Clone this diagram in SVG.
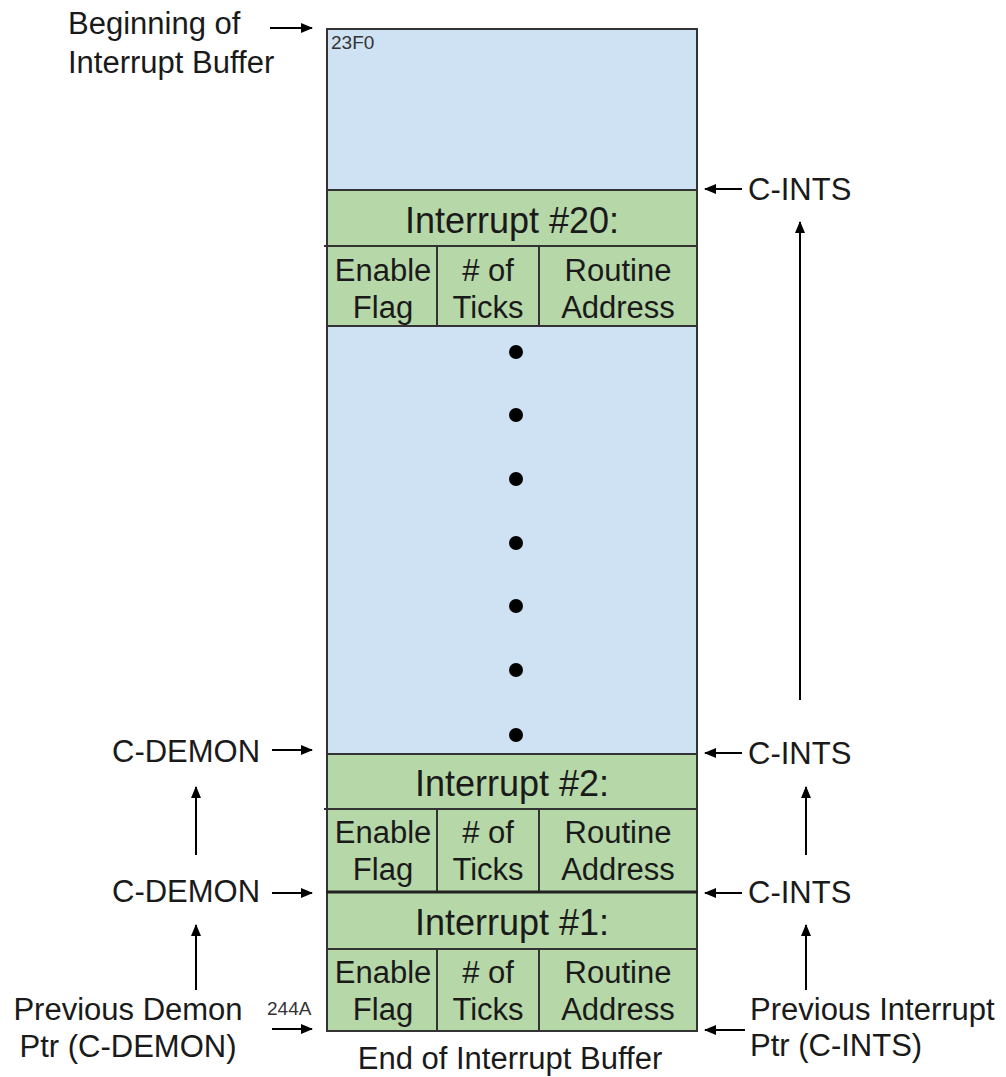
<svg xmlns="http://www.w3.org/2000/svg" width="1006" height="1077" viewBox="0 0 1006 1077">
<style>
text{font-family:"Liberation Sans",Arial,sans-serif;fill:#1a1a1a}
.lbl{font-size:31px}
.hdr{font-size:36px;text-anchor:middle}
.cell{font-size:31px;text-anchor:middle}
.addr{font-size:19px;fill:#333}
.blue{fill:#cfe2f3;stroke:#333;stroke-width:2}
.green{fill:#b6d7a8;stroke:#333;stroke-width:2}
.div{stroke:#333;stroke-width:2}
.arr{stroke:#000;stroke-width:2;fill:none;marker-end:url(#ah)}
.dot{fill:#000}
</style>
<defs>
<marker id="ah" markerUnits="userSpaceOnUse" markerWidth="12" markerHeight="10" refX="11" refY="5" orient="auto">
<path d="M0,0 L12,5 L0,10 Z" fill="#000"/>
</marker>
</defs>
<rect width="1006" height="1077" fill="#fff"/>
<g id="buffer">
<rect class="blue" x="327" y="29" width="370" height="725"/>
<text class="addr" x="331" y="49">23F0</text>
</g>
<g id="dots">
<circle class="dot" cx="516" cy="352" r="7"/>
<circle class="dot" cx="516" cy="415" r="7"/>
<circle class="dot" cx="516" cy="479" r="7"/>
<circle class="dot" cx="516" cy="543" r="7"/>
<circle class="dot" cx="516" cy="606" r="7"/>
<circle class="dot" cx="516" cy="670" r="7"/>
<circle class="dot" cx="516" cy="735" r="7"/>
</g>
<g id="int20">
<rect class="green" x="327" y="190" width="370" height="56"/>
<rect class="green" x="327" y="246" width="370" height="80"/>
<line class="div" x1="324" y1="246" x2="327" y2="246"/>
<line class="div" x1="437" y1="246" x2="437" y2="326"/>
<line class="div" x1="539" y1="246" x2="539" y2="326"/>
<text class="hdr" x="512" y="233">Interrupt #20:</text>
<text class="cell" x="383" y="281">Enable</text>
<text class="cell" x="383" y="318">Flag</text>
<text class="cell" x="488" y="281"># of</text>
<text class="cell" x="488" y="318">Ticks</text>
<text class="cell" x="618" y="281">Routine</text>
<text class="cell" x="618" y="318">Address</text>
</g>
<g id="int2">
<rect class="green" x="327" y="754" width="370" height="55"/>
<rect class="green" x="327" y="809" width="370" height="83"/>
<line class="div" x1="324" y1="809" x2="327" y2="809"/>
<line class="div" x1="437" y1="809" x2="437" y2="892"/>
<line class="div" x1="539" y1="809" x2="539" y2="892"/>
<text class="hdr" x="512" y="796">Interrupt #2:</text>
<text class="cell" x="383" y="843">Enable</text>
<text class="cell" x="383" y="880">Flag</text>
<text class="cell" x="488" y="843"># of</text>
<text class="cell" x="488" y="880">Ticks</text>
<text class="cell" x="618" y="843">Routine</text>
<text class="cell" x="618" y="880">Address</text>
</g>
<g id="int1">
<rect class="green" x="327" y="892" width="370" height="57"/>
<rect class="green" x="327" y="949" width="370" height="82"/>
<line stroke="#222" stroke-width="3" x1="326" y1="892" x2="698" y2="892"/>
<line class="div" x1="437" y1="949" x2="437" y2="1031"/>
<line class="div" x1="539" y1="949" x2="539" y2="1031"/>
<text class="hdr" x="512" y="935">Interrupt #1:</text>
<text class="cell" x="383" y="983">Enable</text>
<text class="cell" x="383" y="1020">Flag</text>
<text class="cell" x="488" y="983"># of</text>
<text class="cell" x="488" y="1020">Ticks</text>
<text class="cell" x="618" y="983">Routine</text>
<text class="cell" x="618" y="1020">Address</text>
<text class="addr" x="267" y="1015">244A</text>
</g>
<g id="labels">
<text class="lbl" x="68" y="34">Beginning of</text>
<text class="lbl" x="68" y="73">Interrupt Buffer</text>
<text class="lbl" x="748" y="200">C-INTS</text>
<text class="lbl" x="748" y="764">C-INTS</text>
<text class="lbl" x="748" y="903">C-INTS</text>
<text class="lbl" x="112" y="762">C-DEMON</text>
<text class="lbl" x="112" y="902">C-DEMON</text>
<text class="lbl" x="128" y="1020" text-anchor="middle">Previous Demon</text>
<text class="lbl" x="128" y="1057" text-anchor="middle">Ptr (C-DEMON)</text>
<text class="lbl" x="750" y="1020">Previous Interrupt</text>
<text class="lbl" x="750" y="1056">Ptr (C-INTS)</text>
<text class="lbl" x="510" y="1069" text-anchor="middle">End of Interrupt Buffer</text>
</g>
<g id="connectors">
<line class="arr" x1="270" y1="28" x2="312" y2="28"/>
<line class="arr" x1="742" y1="189" x2="705" y2="189"/>
<line class="arr" x1="800" y1="700" x2="800" y2="222"/>
<line class="arr" x1="742" y1="753" x2="705" y2="753"/>
<line class="arr" x1="806" y1="855" x2="806" y2="787"/>
<line class="arr" x1="742" y1="893" x2="705" y2="893"/>
<line class="arr" x1="806" y1="990" x2="806" y2="925"/>
<line class="arr" x1="745" y1="1030" x2="705" y2="1030"/>
<line class="arr" x1="272" y1="750" x2="312" y2="750"/>
<line class="arr" x1="272" y1="893" x2="312" y2="893"/>
<line class="arr" x1="196" y1="855" x2="196" y2="787"/>
<line class="arr" x1="196" y1="990" x2="196" y2="925"/>
<line class="arr" x1="272" y1="1029" x2="312" y2="1029"/>
</g>
</svg>
